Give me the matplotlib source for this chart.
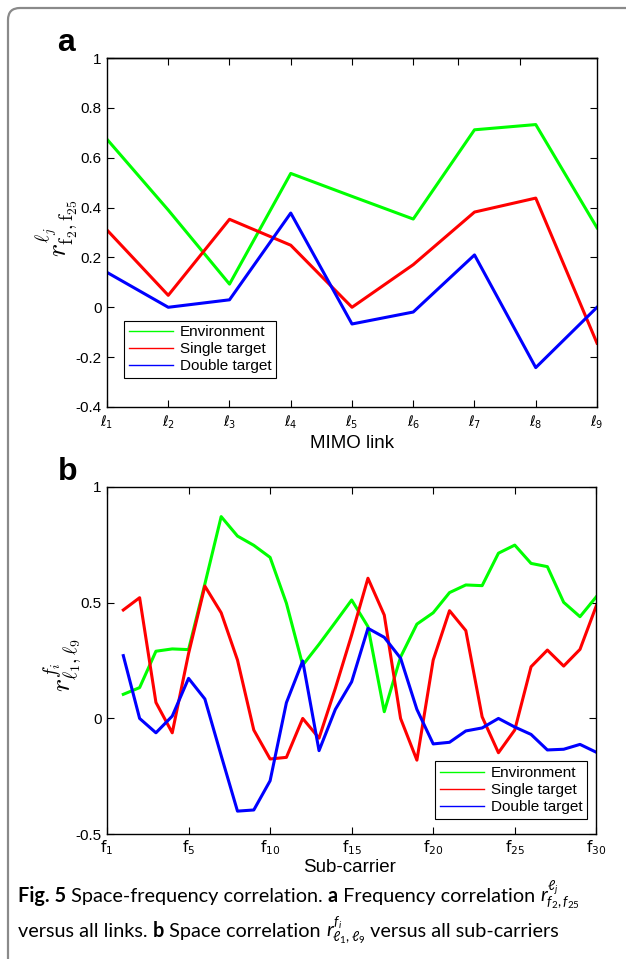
import matplotlib
matplotlib.use('Agg')
import matplotlib.pyplot as plt
from matplotlib.lines import Line2D
from matplotlib.patches import FancyBboxPatch

# ---------------- data ----------------
link_labels = [r'$\ell_{%d}$' % i for i in range(1, 10)]
link_pos = list(range(1, 10))
link_env = [0.674, 0.39, 0.093, 0.537, 0.445, 0.354, 0.712, 0.733, 0.319]
link_single = [0.31, 0.048, 0.353, 0.249, 0.0, 0.171, 0.382, 0.438, -0.144]
link_double = [0.14, 0.0, 0.03, 0.378, -0.067, -0.019, 0.21, -0.242, 0.0]
link_yticks = [-0.4, -0.2, 0, 0.2, 0.4, 0.6, 0.8, 1]
link_ytick_labels = ['-0.4', '-0.2', '0', '0.2', '0.4', '0.6', '0.8', '1']

sc_pos = list(range(1, 31))
sc_env = [0.104, 0.133, 0.29, 0.30, 0.297, 0.58, 0.871, 0.787, 0.747, 0.695,
          0.497, 0.23, 0.32, 0.415, 0.511, 0.396, 0.029, 0.265, 0.407, 0.456,
          0.543, 0.576, 0.573, 0.713, 0.748, 0.669, 0.655, 0.501, 0.439, 0.525]
sc_single = [0.468, 0.521, 0.069, -0.062, 0.28, 0.571, 0.456, 0.252, -0.05, -0.175,
             -0.168, 0.0, -0.085, 0.13, 0.36, 0.605, 0.446, 0.0, -0.18, 0.252,
             0.465, 0.379, 0.007, -0.148, -0.05, 0.223, 0.295, 0.226, 0.298, 0.486]
sc_double = [0.271, 0.0, -0.062, 0.01, 0.173, 0.084, -0.16, -0.40, -0.395, -0.269,
             0.068, 0.248, -0.139, 0.039, 0.158, 0.389, 0.35, 0.26, 0.039, -0.11,
             -0.103, -0.054, -0.041, 0.0, -0.037, -0.069, -0.136, -0.133, -0.112, -0.146]
sc_xticks = [0, 5, 10, 15, 20, 25, 30]
sc_xtick_labels = [r'$\mathrm{f}_{1}$', r'$\mathrm{f}_{5}$', r'$\mathrm{f}_{10}$',
                   r'$\mathrm{f}_{15}$', r'$\mathrm{f}_{20}$', r'$\mathrm{f}_{25}$',
                   r'$\mathrm{f}_{30}$']
sc_yticks = [-0.5, 0, 0.5, 1]
sc_ytick_labels = ['-0.5', '0', '0.5', '1']

series_names = ['Environment', 'Single target', 'Double target']
series_colors = ['#00ff00', '#ff0000', '#0000ff']

# ---------------- style ----------------
plt.rcParams['font.family'] = ['Liberation Sans', 'DejaVu Sans']
plt.rcParams['mathtext.fontset'] = 'custom'
plt.rcParams['mathtext.rm'] = 'Lato'
plt.rcParams['mathtext.it'] = 'Lato:italic'
plt.rcParams['mathtext.bf'] = 'Lato:bold'

W, H = 626, 959
fig = plt.figure(figsize=(W / 100, H / 100), dpi=100)
fig.patch.set_facecolor('white')

# outer frame (rounded, gray)
frame = FancyBboxPatch((0.08, -0.6), 7.0, (H - 8) / 100 + 0.6,
                       boxstyle='round,pad=0,rounding_size=0.12',
                       transform=fig.dpi_scale_trans, facecolor='none',
                       edgecolor='#8a8a8a', linewidth=1.6)
fig.add_artist(frame)

LW = 2.2
TICKFS = 11


def style_axes(ax):
    for s in ax.spines.values():
        s.set_linewidth(1.0)
    ax.tick_params(direction='in', length=5, width=0.8, labelsize=TICKFS,
                   right=True, top=False, pad=4)


def legend(ax, anchor):
    handles = [Line2D([], [], color=c, lw=1.0) for c in series_colors]
    lg = ax.legend(handles, series_names, loc='upper left', bbox_to_anchor=anchor,
                   borderaxespad=0, frameon=True, fancybox=False, edgecolor='black',
                   framealpha=1, prop={'family': 'Liberation Sans', 'size': 11},
                   handlelength=2.9, handletextpad=0.45, borderpad=0.3,
                   labelspacing=0.2)
    lg.get_frame().set_linewidth(0.8)
    return lg


# ---------------- panel a ----------------
ax1 = fig.add_axes([107 / W, 1 - 407 / H, 490 / W, 349 / H])
for vals, c in zip([link_env, link_single, link_double], series_colors):
    ax1.plot(link_pos, vals, color=c, lw=LW)
ax1.set_xlim(1, 9)
ax1.set_ylim(-0.4, 1)
ax1.set_yticks(link_yticks)
ax1.set_yticklabels(link_ytick_labels)
ax1.set_xticks(link_pos)
ax1.set_xticklabels(link_labels)
style_axes(ax1)
ax1.tick_params(axis='x', pad=5)
for lbl in ax1.get_xticklabels():
    lbl.set_math_fontfamily('dejavusans')
    lbl.set_fontsize(10)
sec = ax1.secondary_xaxis('top')
sec.set_xticks([2, 3, 4, 5, 6, 6.73, 7.74])
sec.tick_params(direction='in', length=5, width=0.8, labeltop=False)
sec.spines['top'].set_linewidth(1.0)
ax1.set_ylabel(r'$r^{\ell_j}_{\mathrm{f}_2,\mathrm{f}_{25}}$', fontsize=20,
               math_fontfamily='cm')
ax1.yaxis.set_label_coords((80 - 107) / 490, (407 - 228) / 349)
legend(ax1, ((124 - 107) / 490, (407 - 320.7) / 349))

# ---------------- panel b ----------------
ax2 = fig.add_axes([107 / W, 1 - 834.3 / H, 489.3 / W, 347.6 / H])
for vals, c in zip([sc_env, sc_single, sc_double], series_colors):
    ax2.plot(sc_pos, vals, color=c, lw=LW)
ax2.set_xlim(0, 30)
ax2.set_ylim(-0.5, 1)
ax2.set_yticks(sc_yticks)
ax2.set_yticklabels(sc_ytick_labels)
ax2.set_xticks(sc_xticks)
ax2.set_xticklabels(sc_xtick_labels)
style_axes(ax2)
ax2.tick_params(top=True)
ax2.tick_params(axis='x', pad=3)
for lbl in ax2.get_xticklabels():
    lbl.set_math_fontfamily('dejavusans')
    lbl.set_fontsize(11)
ax2.set_ylabel(r'$r^{f_i}_{\ell_1,\ell_9}$', fontsize=20, math_fontfamily='cm')
ax2.yaxis.set_label_coords((83 - 107) / 489.3, (834.3 - 665) / 347.6)
legend(ax2, ((435.3 - 107) / 489.3, (834.3 - 761.3) / 347.6))

# axis titles & panel letters
fig.text(352 / W, 1 - 443 / H, 'MIMO link', ha='center', va='center', fontsize=13.5)
fig.text(350 / W, 1 - 867 / H, 'Sub-carrier', ha='center', va='center', fontsize=13.5)
fig.text(66 / W, 1 - 51 / H, 'a', ha='center', va='baseline', fontsize=23,
         fontweight='bold')
fig.text(68 / W, 1 - 480 / H, 'b', ha='center', va='baseline', fontsize=23,
         fontweight='bold')

# caption (pieces placed one after another)
cap_line1 = [('Fig. 5', 'bold'), (' Space-frequency correlation. ', 'normal'),
             ('a', 'bold'), (' Frequency correlation ', 'normal'),
             (r'$r^{\ell_j}_{f_2,f_{25}}$', 'normal')]
cap_line2 = [('versus all links. ', 'normal'), ('b', 'bold'),
             (' Space correlation ', 'normal'),
             (r'$r^{f_i}_{\ell_1,\ell_9}$', 'normal'),
             (' versus all sub-carriers', 'normal')]

renderer = fig.canvas.get_renderer()


def place_line(pieces, x0, ybase, fs):
    texts = []
    x = x0
    for s, wgt in pieces:
        t = fig.text(x / W, 1 - ybase / H, s, ha='left', va='baseline',
                     fontsize=fs, family='Lato', fontweight=wgt)
        bb = t.get_window_extent(renderer)
        x = bb.x1
        texts.append(t)
    return texts, x


def caption(fs):
    l1, e1 = place_line(cap_line1, 18, 902, fs)
    l2, e2 = place_line(cap_line2, 18, 937, fs)
    return l1 + l2, e1


trial, end1 = caption(13)
for t in trial:
    t.remove()
fs_cap = 13 * (580 - 18) / (end1 - 18)
caption(fs_cap)

fig.savefig('out.png', dpi=100)
